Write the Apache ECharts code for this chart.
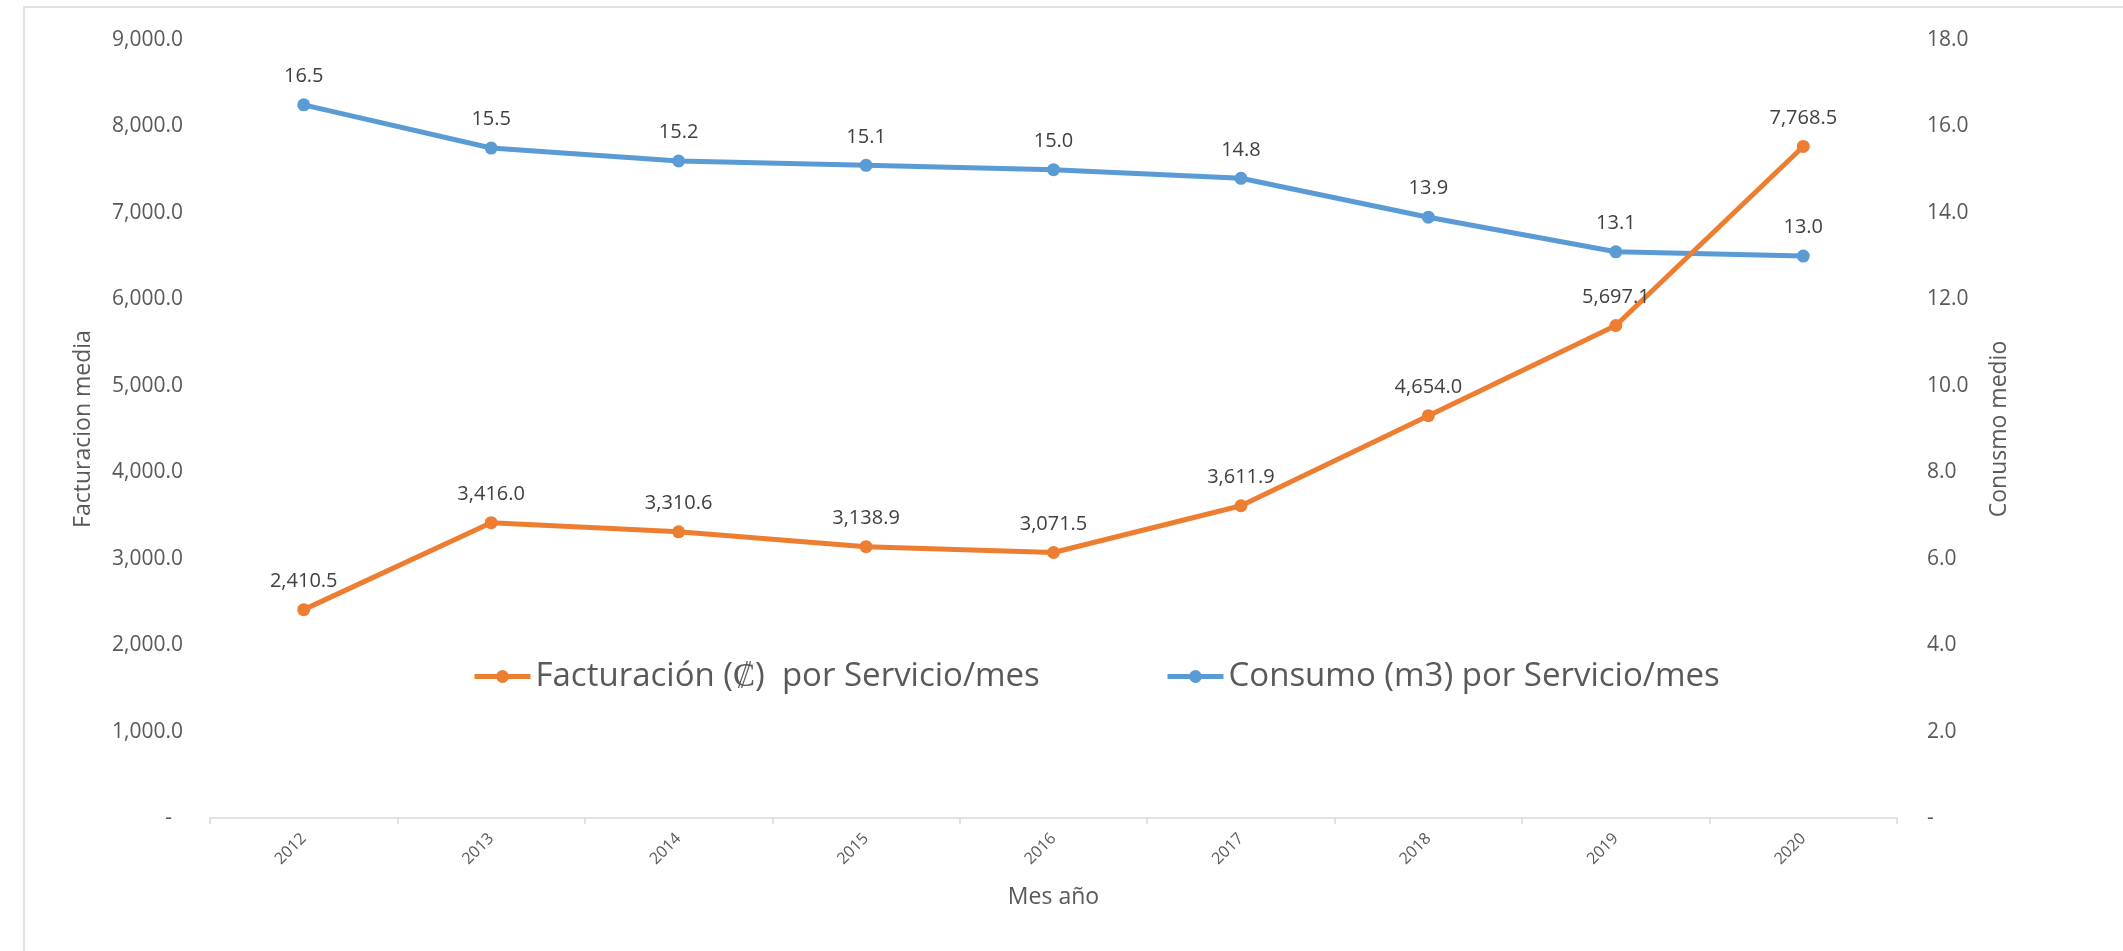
<!DOCTYPE html>
<html>
<head>
<meta charset="utf-8">
<script src="https://cdn.jsdelivr.net/npm/echarts@6/dist/echarts.min.js"></script>
<style>
  html, body { margin: 0; padding: 0; background: #ffffff; }
  #chart { width: 2123px; height: 951px; }
</style>
</head>
<body>
<div id="chart"></div>
<script>
const years = ['2012', '2013', '2014', '2015', '2016', '2017', '2018', '2019', '2020'];
const facturacion = [2410.5, 3416.0, 3310.6, 3138.9, 3071.5, 3611.9, 4654.0, 5697.1, 7768.5];
const consumo = [16.5, 15.5, 15.2, 15.1, 15.0, 14.8, 13.9, 13.1, 13.0];
const seriesNames = ['Facturación (₡)  por Servicio/mes', 'Consumo (m3) por Servicio/mes'];
const axisNames = ['Mes año', 'Facturacion media', 'Conusmo medio'];

const FONT = 'Open Sans';
const TEXT = '#595959';
const ORANGE = '#ED7D31';
const BLUE = '#5B9BD5';

function fmt1(v) {
  return Number(v).toLocaleString('en-US', { minimumFractionDigits: 1, maximumFractionDigits: 1 });
}

const legendCommon = {
  itemWidth: 56, itemHeight: 16, itemGap: 14,
  lineStyle: { width: 5 },
  textStyle: { color: TEXT, fontFamily: FONT, fontSize: 33 }
};

const chart = echarts.init(document.getElementById('chart'), null, { renderer: 'canvas' });
chart.setOption({
  backgroundColor: '#ffffff',
  animation: false,
  graphic: [{
    type: 'rect',
    shape: { x: 24, y: 7, width: 2300, height: 1100 },
    style: { fill: 'none', stroke: '#d9d9d9', lineWidth: 1.5 },
    silent: true
  }],
  grid: { left: 210, right: 226, top: 40, bottom: 133, containLabel: false },
  legend: [
    Object.assign({ data: [seriesNames[0]], left: 467, top: 655 }, legendCommon),
    Object.assign({ data: [seriesNames[1]], left: 1160, top: 655 }, legendCommon)
  ],
  xAxis: {
    type: 'category',
    data: years,
    boundaryGap: true,
    name: axisNames[0],
    nameLocation: 'middle',
    nameGap: 68,
    nameTextStyle: { color: TEXT, fontFamily: FONT, fontSize: 23 },
    axisLine: { show: true, lineStyle: { color: '#d9d9d9', width: 1.5 } },
    axisTick: { show: true, length: 6, lineStyle: { color: '#d9d9d9', width: 1.5 } },
    axisLabel: { rotate: 45, margin: 18, color: TEXT, fontFamily: FONT, fontSize: 16 },
    splitLine: { show: false }
  },
  yAxis: [
    {
      type: 'value',
      min: 0, max: 9000, interval: 1000,
      position: 'left',
      name: axisNames[1],
      nameLocation: 'middle',
      nameRotate: 90,
      nameGap: 115,
      nameTextStyle: { color: TEXT, fontFamily: FONT, fontSize: 23 },
      axisLine: { show: false },
      axisTick: { show: false },
      splitLine: { show: false },
      axisLabel: {
        margin: 27, color: TEXT, fontFamily: FONT, fontSize: 21,
        formatter: function (v) { return v === 0 ? '-  ' : fmt1(v); }
      }
    },
    {
      type: 'value',
      min: 0, max: 18, interval: 2,
      position: 'right',
      name: axisNames[2],
      nameLocation: 'middle',
      nameRotate: 90,
      nameGap: 91,
      nameTextStyle: { color: TEXT, fontFamily: FONT, fontSize: 23 },
      axisLine: { show: false },
      axisTick: { show: false },
      splitLine: { show: false },
      axisLabel: {
        margin: 30, color: TEXT, fontFamily: FONT, fontSize: 21,
        formatter: function (v) { return v === 0 ? '-' : fmt1(v); }
      }
    }
  ],
  series: [
    {
      name: seriesNames[0],
      type: 'line',
      yAxisIndex: 0,
      data: facturacion,
      symbol: 'circle',
      symbolSize: 13,
      lineStyle: { color: ORANGE, width: 5 },
      itemStyle: { color: ORANGE },
      label: {
        show: true, position: 'top', distance: 12,
        color: '#404040', fontFamily: FONT, fontSize: 20,
        formatter: function (p) { return fmt1(p.value); }
      },
      z: 3
    },
    {
      name: seriesNames[1],
      type: 'line',
      yAxisIndex: 1,
      data: consumo,
      symbol: 'circle',
      symbolSize: 13,
      lineStyle: { color: BLUE, width: 5 },
      itemStyle: { color: BLUE },
      label: {
        show: true, position: 'top', distance: 12,
        color: '#404040', fontFamily: FONT, fontSize: 20,
        formatter: function (p) { return fmt1(p.value); }
      },
      z: 2
    }
  ]
});
</script>
</body>
</html>
